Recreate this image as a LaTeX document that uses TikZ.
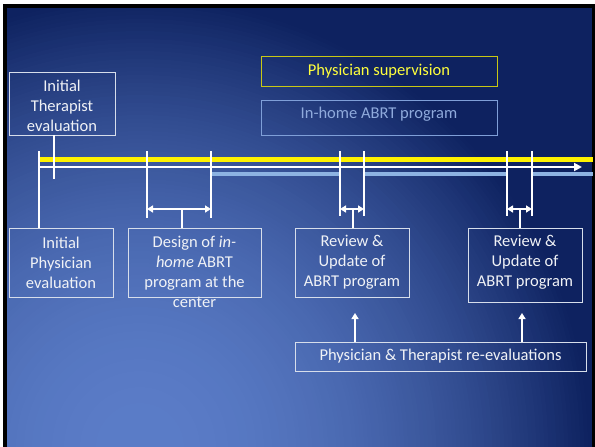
\documentclass[tikz,border=0pt]{standalone}
\usepackage{fontspec}
\setmainfont{Carlito}
\usetikzlibrary{arrows.meta}
\definecolor{bglight}{HTML}{5B7DC8}
\definecolor{bgdark}{HTML}{0E2260}
\definecolor{boxline}{RGB}{215,222,235}
\definecolor{boxtext}{RGB}{240,242,246}
\definecolor{supline}{RGB}{200,200,20}
\definecolor{suptext}{RGB}{255,255,60}
\definecolor{lblue}{HTML}{8DB3E2}
\definecolor{inline}{HTML}{7F9FD8}
\definecolor{intext}{HTML}{8FAADC}
\begin{document}
\begin{tikzpicture}[x=1pt,y=-1pt,
  box/.style={draw=boxline, line width=0.8pt, text=boxtext, align=center, inner sep=0pt,
    font=\fontsize{16.5}{20}\selectfont},
  txt/.style={text=boxtext, align=center, inner sep=0pt, font=\fontsize{16.5}{20}\selectfont},
  ybox/.style={draw=supline, line width=0.8pt, text=suptext, align=center, inner sep=0pt,
    font=\fontsize{16.5}{20}\selectfont},
  bbox/.style={draw=inline, line width=0.8pt, text=intext, align=center, inner sep=0pt,
    font=\fontsize{16.5}{20}\selectfont},
  tick/.style={draw=white, line width=1.5pt},
  dbl/.style={draw=white, line width=1.5pt, {Triangle[length=6pt,width=7pt]}-{Triangle[length=6pt,width=7pt]}},
  uparrow/.style={draw=white, line width=1.5pt, -{Triangle[length=6pt,width=7pt]}},
  mainarrow/.style={draw=white, line width=2pt, -{Triangle[length=8pt,width=8pt]}},
  yline/.style={draw=yellow, line width=5pt},
  bline/.style={draw=lblue, line width=4pt}
]
\useasboundingbox (0,0) rectangle (595,447);
% frame and background
\fill[white] (0,0) rectangle (595,447);
\fill[black] (3,4) rectangle (595,447);
\begin{scope}
  \clip (7,8) rectangle (592,447);
  \fill[bgdark] (7,8) rectangle (592,447);
  \foreach \r in {452,448,...,4} {
    \pgfmathtruncatemacro\p{100*(1-(\r/452)^2)}
    \fill[bglight!\p!bgdark] (140,447) circle (\r pt);
  }
\end{scope}

% top boxes
\node[ybox, minimum width=236pt, minimum height=30pt] (sup) at (379,71) {Physician supervision};
\node[bbox, minimum width=236pt, minimum height=35pt] (inhome) at (379,117.5) {};
\node[text=intext, inner sep=0pt, font=\fontsize{16.5}{20}\selectfont] (inhometxt) at (379,114.5) {In-home ABRT program};
\node[box, minimum width=106pt, minimum height=63pt] (therap) at (62,103.5) {};
\node[txt] (theraptxt) at (62,105.5) {Initial\\Therapist\\evaluation};

% timeline
\coordinate (ys) at (39,159); \coordinate (ye) at (593,159);
\coordinate (ws) at (39,167); \coordinate (we) at (582,167);
\draw[yline] (ys) -- (ye);
\draw[mainarrow] (ws) -- (we);
\coordinate (b1s) at (211,174); \coordinate (b1e) at (340,174);
\coordinate (b2s) at (364,174); \coordinate (b2e) at (507,174);
\coordinate (b3s) at (532,174); \coordinate (b3e) at (593,174);
\draw[bline] (b1s) -- (b1e);
\draw[bline] (b2s) -- (b2e);
\draw[bline] (b3s) -- (b3e);

% bottom boxes
\node[box, minimum width=104pt, minimum height=69pt] (phys) at (61,262.5) {Initial\\Physician\\evaluation};
\node[box, minimum width=133pt, minimum height=69pt] (design) at (194.5,262.5) {};
\node[txt] (designtxt) at (194.5,272) {Design of \textit{in-}\\\textit{home} ABRT\\program at the\\center};
\node[box, minimum width=114pt, minimum height=69pt] (rev1) at (352,262.5) {Review \&\\Update of\\ABRT program};
\node[box, minimum width=114pt, minimum height=74pt] (rev2) at (525,265) {};
\node[txt] (rev2txt) at (525,262) {Review \&\\Update of\\ABRT program};
\node[box, minimum width=291pt, minimum height=29pt] (reeval) at (440.5,356.5) {Physician \& Therapist re-evaluations};

% therapist line
\coordinate (th) at (54,179);
\draw[tick] (therap.south -| th) -- (th);

% ticks
\coordinate (t0) at (39,151);
\draw[tick] (t0) -- (phys.north -| t0);
\coordinate (t1) at (147,151); \coordinate (t1b) at (147,218);
\coordinate (t2) at (211,151); \coordinate (t2b) at (211,218);
\draw[tick] (t1) -- (t1b);
\draw[tick] (t2) -- (t2b);
\coordinate (t3) at (340,151); \coordinate (t3b) at (340,216);
\coordinate (t4) at (364,151); \coordinate (t4b) at (364,216);
\coordinate (t5) at (507,151); \coordinate (t5b) at (507,216);
\coordinate (t6) at (532,151); \coordinate (t6b) at (532,216);
\draw[tick] (t3) -- (t3b);
\draw[tick] (t4) -- (t4b);
\draw[tick] (t5) -- (t5b);
\draw[tick] (t6) -- (t6b);

% double arrows and stems
\coordinate (d1a) at (147,209); \coordinate (d1b) at (211,209); \coordinate (s1) at (182,209);
\draw[dbl] (d1a) -- (d1b);
\draw[tick] (s1) -- (design.north -| s1);
\coordinate (d2a) at (340,209); \coordinate (d2b) at (364,209); \coordinate (s2) at (353,209);
\draw[dbl] (d2a) -- (d2b);
\draw[tick] (s2) -- (rev1.north -| s2);
\coordinate (d3a) at (507,209); \coordinate (d3b) at (532,209); \coordinate (s3) at (520,209);
\draw[dbl] (d3a) -- (d3b);
\draw[tick] (s3) -- (rev2.north -| s3);

% up arrows
\coordinate (u1) at (355,313); \coordinate (u2) at (522,313);
\draw[uparrow] (reeval.north -| u1) -- (u1);
\draw[uparrow] (reeval.north -| u2) -- (u2);
\end{tikzpicture}
\end{document}
